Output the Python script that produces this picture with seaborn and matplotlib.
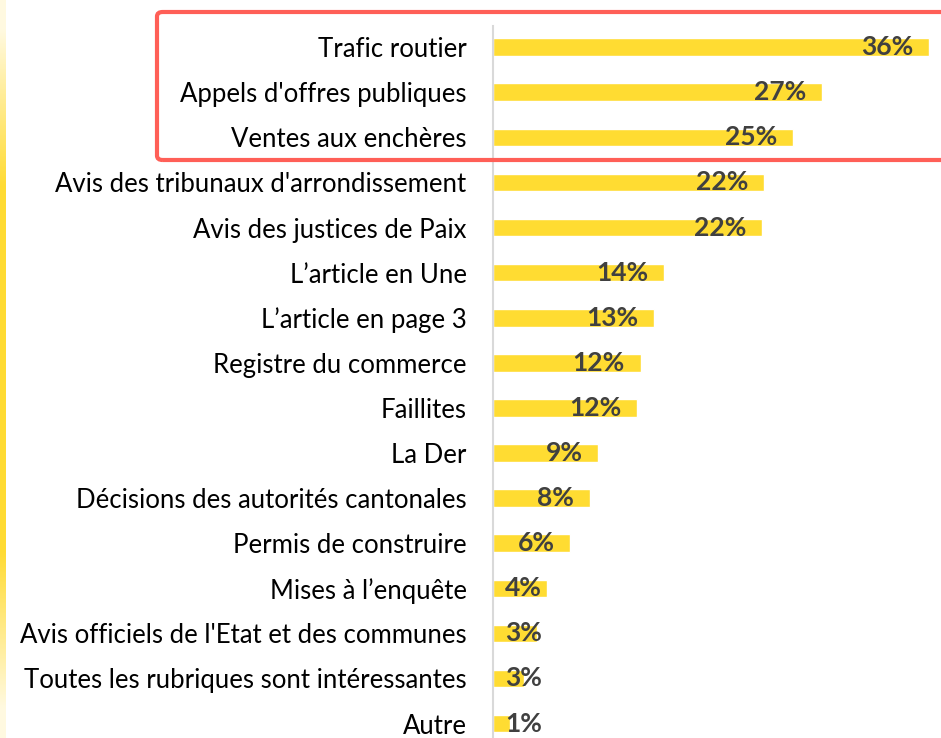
import numpy as np
import pandas as pd
import seaborn as sns
import matplotlib.pyplot as plt
from matplotlib.patches import FancyBboxPatch

categories = ["Trafic routier", "Appels d'offres publiques", "Ventes aux enchères",
              "Avis des tribunaux d'arrondissement", "Avis des justices de Paix",
              "L’article en Une", "L’article en page 3", "Registre du commerce",
              "Faillites", "La Der", "Décisions des autorités cantonales",
              "Permis de construire", "Mises à l’enquête",
              "Avis officiels de l'Etat et des communes",
              "Toutes les rubriques sont intéressantes", "Autre"]
values = [36.0, 27.2, 24.8, 22.4, 22.2, 14.1, 13.3, 12.2, 11.9, 8.7, 8.0, 6.4, 4.5, 3.6, 2.6, 1.4]
labels = ["36%", "27%", "25%", "22%", "22%", "14%", "13%", "12%", "12%", "9%", "8%",
          "6%", "4%", "3%", "3%", "1%"]

df = pd.DataFrame({"cat": categories, "val": values})

sns.set_style("white")
plt.rcParams['font.family'] = ['Lato', 'DejaVu Sans']

fig = plt.figure(figsize=(9.41, 7.38), dpi=100)
ax = fig.add_axes([493 / 941, 0, 1 - 493 / 941, 1 - 26 / 738])

sns.barplot(data=df, x="val", y="cat", color="#FFDC32", saturation=1, width=0.39, ax=ax)

ax.set_xlim(0, 37)
ax.set_ylim(15.32, -0.47)
ax.set_xlabel("")
ax.set_ylabel("")
ax.set_xticks([])
for s in ["top", "right", "bottom"]:
    ax.spines[s].set_visible(False)
ax.spines["left"].set_color("#d9d9d9")
ax.spines["left"].set_linewidth(1.5)
ax.tick_params(axis="y", length=0, pad=19, labelsize=18.5, labelcolor="#000000")

# data labels, inside end (or at the base when the bar is too short)
for i, (v, t) in enumerate(zip(values, labels)):
    ax.text(max(v - 1.3, 4.05), i, t, ha="right", va="center", fontsize=19,
            fontweight="bold", color="#404040")

# red highlight box around the top three
box = FancyBboxPatch((157 / 941, 1 - 160 / 738), 800 / 941, 148 / 738,
                     boxstyle="round,pad=0,rounding_size=0.006", transform=fig.transFigure,
                     fill=False, edgecolor="#FF5F57", linewidth=3, clip_on=False)
fig.patches.append(box)

# yellow gradient line at the left edge
gax = fig.add_axes([0, 0, 6 / 941, 1])
t = np.linspace(0, 1, 200)
alpha = np.clip(np.minimum(t, 1 - t) * 4, 0.15, 1)
img = np.zeros((200, 1, 4))
img[..., 0] = 1.0
img[..., 1] = 0.86
img[..., 2] = 0.2
img[:, 0, 3] = alpha
gax.imshow(img, aspect="auto", interpolation="bilinear")
gax.axis("off")

fig.savefig("out.png", dpi=100)
